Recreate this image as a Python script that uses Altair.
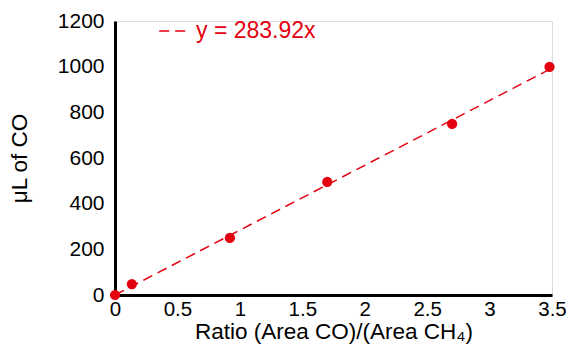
import altair as alt
import pandas as pd

ratio = [0, 0.135, 0.92, 1.70, 2.70, 3.48]
ul_co = [0, 48, 250, 495, 749, 999]
slope = 283.92
fit_x = [0, 3.5]
fit_label = "y = 283.92x"
x_ticks = [0, 0.5, 1, 1.5, 2, 2.5, 3, 3.5]
y_ticks = [0, 200, 400, 600, 800, 1000, 1200]

red = "#e3000f"
font = "Liberation Sans"

pts = pd.DataFrame({"x": ratio, "y": ul_co})
fit = pd.DataFrame({"x": fit_x, "y": [slope * v for v in fit_x], "label": [fit_label] * 2})

xscale = alt.Scale(domain=[0, 3.5], nice=False, zero=True)
yscale = alt.Scale(domain=[0, 1200], nice=False)

xaxis = alt.Axis(values=x_ticks, format="~g", title="Ratio (Area CO)/(Area CH₄)", grid=False, ticks=False,
                 domainColor="black", domainWidth=3, labelFontSize=20.5, titleFontSize=22.5,
                 labelColor="black", titleColor="black", labelFont=font, titleFont=font,
                 titleFontWeight="normal", labelPadding=4, titlePadding=1,
                 labelFlush=False, labelOverlap=False)
yaxis = alt.Axis(values=y_ticks, format="d", title="μL of CO", grid=False, ticks=False,
                 domainColor="black", domainWidth=3, labelFontSize=21, titleFontSize=22.5,
                 labelColor="black", titleColor="black", labelFont=font, titleFont=font,
                 titleFontWeight="normal", labelPadding=11, titlePadding=26,
                 labelFlush=False, labelOverlap=False)

line = alt.Chart(fit).mark_line(strokeDash=[10, 6], strokeWidth=1.5).encode(
    x=alt.X("x:Q", scale=xscale, axis=xaxis),
    y=alt.Y("y:Q", scale=yscale, axis=yaxis),
    color=alt.Color("label:N", scale=alt.Scale(range=[red]),
                    legend=alt.Legend(title=None, orient="none", legendX=43, legendY=-7,
                                      symbolType="stroke", symbolDash=[10, 6],
                                      symbolStrokeWidth=1.5, symbolSize=1000,
                                      labelFontSize=23, labelColor=red, labelFont=font,
                                      labelOffset=4)),
)

points = alt.Chart(pts).mark_circle(size=105, opacity=1, color=red).encode(
    x=alt.X("x:Q", scale=xscale),
    y=alt.Y("y:Q", scale=yscale),
)

chart = alt.layer(line, points).properties(
    width=437, height=274,
    autosize=alt.AutoSizeParams(type="none"),
    padding={"left": 107, "top": 13, "right": 14, "bottom": 50},
).configure_view(stroke=None).configure(background="white")

chart.save("out.html", embed_options={"renderer": "svg", "actions": False})
